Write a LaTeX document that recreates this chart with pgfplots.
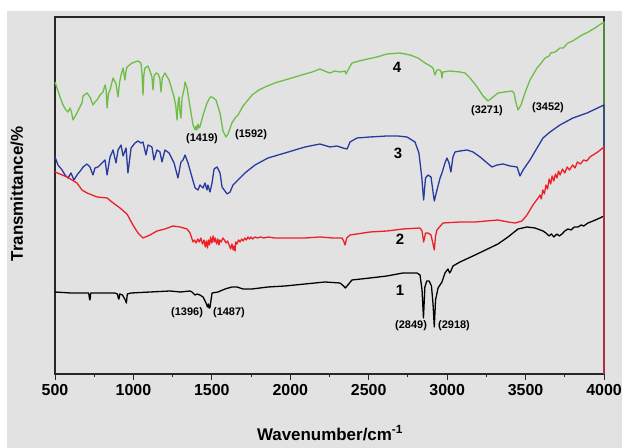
\documentclass[border=0pt]{standalone}
\usepackage{fontspec}
\setmainfont{Liberation Sans}
\usepackage{pgfplots}
\pgfplotsset{compat=1.18}
\definecolor{bgg}{RGB}{226,226,226}
\definecolor{cgreen}{RGB}{108,190,70}
\definecolor{cblue}{RGB}{40,58,160}
\definecolor{cred}{RGB}{236,32,38}
\definecolor{axc}{RGB}{40,40,40}
\begin{document}
\begin{tikzpicture}[x=1bp,y=1bp]
\useasboundingbox (0,0) rectangle (622,448);
\fill[bgg] (7,0) rectangle (622,437);
\begin{axis}[
  at={(55bp,74bp)}, anchor=south west,
  scale only axis, width=549bp, height=357bp,
  xmin=500, xmax=4000, ymin=0, ymax=357,
  xtick={500,1000,...,4000}, minor x tick num=1,
  ytick=\empty, xtick pos=bottom, tick align=outside,
  major tick length=6bp, minor tick length=3.5bp,
  every tick/.style={axc, line width=1pt},
  axis line style={axc, line width=1.2pt},
  xticklabel style={font=\fontsize{16}{19}\selectfont\bfseries, yshift=-1bp},
  /pgf/number format/assume math mode=true,
  /pgf/number format/1000 sep={},
  clip=false,
  axis background/.style={fill=bgg},
  every axis plot/.append style={line width=1.3pt, line join=round},
]
% 1 (black)
\addplot[black] coordinates {
(500,82)(600,81)(679,81)(715,81)(720,75)(723,74)(728,81)(742,81)(800,81)(880,81)(898,80)(905,75)(908,75)(913,80)(930,79)(948,74)(955,71)(961,80)(985,81)
(1106,82)(1233,83)(1300,82)(1361,83)(1373,82)(1393,79)(1405,80)(1424,79)(1444,77)(1463,71)(1472,67)(1478,70)(1482,66)(1487,66)(1493,72)(1501,81)(1539,82)
(1584,85)(1628,87)(1660,87)(1699,85)(1756,85)(1858,87)(1966,88)(2094,90)(2221,92)(2317,91)(2340,88)(2350,86)(2362,88)(2393,94)(2508,96)(2616,98)(2718,101)(2808,101)
(2827,99)(2840,84)(2849,56)(2858,87)(2870,93)(2885,93)(2900,88)(2910,70)(2918,47)(2926,74)(2942,86)(2967,92)(2986,101)(3005,105)(3016,101)(3024,103)(3037,108)(3082,112)(3178,119)
(3324,130)(3388,137)(3452,145)(3509,147)(3560,146)(3611,143)(3630,141)(3650,138)(3665,140)(3680,137)(3700,140)(3715,138)(3732,140)(3750,143)(3770,145)(3790,144)(3810,147)(3834,147)(3855,149)(3870,148)(3898,151)(3930,153)(3960,155)(4000,158)(4000,0)};
% 4 (green)
\addplot[cgreen] coordinates {
(500,292)(532,277)(551,269)(570,264)(583,262)(596,266)(605,262)(615,254)(640,261)(672,271)(679,278)(704,281)(723,277)(742,269)(755,272)(768,274)(787,279)(806,282)(819,289)(826,284)(832,266)(840,280)(851,284)
(870,296)(889,290)(902,277)(912,292)(921,299)(934,306)(940,300)(946,294)(952,302)(959,307)(991,311)(1029,313)(1048,311)(1055,300)(1061,279)(1067,300)(1074,306)(1093,308)(1112,300)(1118,297)(1125,284)(1132,298)(1144,301)(1157,300)(1168,296)(1176,282)(1184,296)(1201,301)
(1227,294)(1259,277)(1270,268)(1278,254)(1285,272)(1291,277)(1297,262)(1303,256)(1310,276)(1322,284)(1329,292)(1342,286)(1361,267)(1380,249)(1393,244)(1399,248)(1405,244)(1412,250)(1418,246)(1424,247)(1444,259)(1469,271)(1490,277)(1501,277)
(1526,274)(1552,261)(1571,243)(1590,237)(1603,240)(1628,251)(1648,256)(1667,259)(1699,268)(1730,274)(1756,279)(1800,284)(1839,287)(1900,291)(1966,294)(2030,297)(2094,300)(2140,302)(2189,305)(2234,302)(2253,301)(2285,303)(2317,302)(2349,303)(2355,300)(2368,304)(2393,311)
(2464,314)(2553,317)(2616,320)(2699,321)(2763,319)(2814,316)(2859,311)(2903,307)(2912,305)(2922,299)(2935,304)(2954,304)(2962,302)(2967,296)(2973,302)(3018,303)(3082,302)(3114,301)(3146,296)(3191,287)(3229,278)(3261,273)(3293,277)(3324,281)
(3369,282)(3413,283)(3426,281)(3439,271)(3452,264)(3471,269)(3496,281)(3528,294)(3573,306)(3600,311)(3624,316)(3650,318)(3660,321)(3688,322)(3720,326)(3740,326)(3770,331)(3800,333)(3830,336)(3860,339)(3900,342)(3943,346)(3970,349)(4000,352)(4000,0)};
% 3 (blue)
\addplot[cblue] coordinates {
(500,217)(519,209)(545,204)(564,199)(583,196)(602,201)(621,194)(640,199)(666,204)(679,207)(704,210)(723,207)(742,199)(755,206)(774,207)(800,211)(819,214)(832,199)(851,217)(870,224)(889,211)(902,224)(921,229)(934,218)(953,226)(965,201)(985,226)
(1010,231)(1029,233)(1048,231)(1061,232)(1080,219)(1093,229)(1118,227)(1131,214)(1150,224)(1169,222)(1182,212)(1201,224)(1227,221)(1259,211)(1284,196)(1303,212)(1316,214)(1329,219)(1348,211)(1373,197)(1393,186)(1412,184)(1424,189)(1444,186)(1456,191)(1469,184)(1475,189)(1488,182)
(1501,191)(1514,205)(1533,207)(1552,201)(1565,187)(1597,180)(1616,182)(1635,189)(1667,194)(1711,201)(1775,209)(1858,216)(1966,221)(2094,227)(2189,230)(2253,227)(2297,228)(2336,226)(2362,225)(2381,232)(2425,236)(2508,237)(2616,238)(2686,238)(2744,237)(2795,232)(2820,221)(2838,197)(2850,174)
(2862,196)(2878,199)(2897,197)(2918,173)(2935,184)(2955,196)(2967,201)(2986,211)(2999,216)(3012,211)(3024,202)(3037,217)(3050,222)(3082,223)(3127,224)(3165,222)(3210,217)(3255,211)(3286,207)(3318,209)(3356,210)(3401,208)(3446,207)(3464,198)(3484,204)
(3528,214)(3573,226)(3611,236)(3656,242)(3719,249)(3802,256)(3892,261)(4000,269)(4000,0)};
% 2 (red)
\addplot[cred] coordinates {
(500,202)(577,197)(640,191)(672,184)(704,181)(768,177)(832,176)(863,172)(914,166)(959,160)(997,149)(1029,141)(1061,136)(1106,139)(1150,143)(1201,145)(1252,148)(1297,147)(1342,145)(1361,141)(1380,132)
(1390,134)(1400,131)(1410,135)(1420,132)(1430,136)(1440,130)(1450,134)(1458,127)(1465,133)(1472,126)(1478,134)(1485,129)(1492,137)(1500,131)(1508,138)(1515,132)(1522,136)(1530,130)(1538,135)(1545,129)(1552,134)(1560,132)(1570,136)(1580,134)(1590,131)(1600,133)(1610,129)(1620,125)(1628,130)(1636,124)(1642,128)(1648,123)(1652,132)(1660,130)(1670,134)(1680,132)(1690,135)(1700,133)(1710,136)(1720,134)(1730,137)(1740,135)(1750,137)(1760,135)(1775,137)(1790,136)(1810,137)(1830,136)(1860,137)(1900,136)
(1966,136)(2094,136)(2189,137)(2272,136)(2330,136)(2340,133)(2349,129)(2360,136)(2381,139)(2508,142)(2616,143)(2718,145)(2827,146)(2840,143)(2850,132)(2862,141)(2878,141)(2897,139)(2910,130)(2918,124)(2926,138)(2935,144)(2973,151)(3082,152)(3178,152)(3324,154)(3388,152)(3433,151)(3477,153)(3509,159)(3547,169)
(3580,176)(3592,179)(3600,175)(3610,184)(3620,180)(3630,189)(3640,185)(3650,195)(3660,190)(3669,198)(3680,193)(3690,200)(3700,196)(3710,203)(3720,199)(3735,205)(3750,201)(3765,207)(3780,204)(3800,209)(3815,206)(3830,212)(3850,210)(3870,214)(3890,213)(3910,217)(3930,219)(3960,222)(4000,227)(4000,0)};
% annotations
\node[font=\fontsize{15}{18}\selectfont\bfseries] at (axis cs:2680,307) {4};
\node[font=\fontsize{15}{18}\selectfont\bfseries] at (axis cs:2687,221) {3};
\node[font=\fontsize{15}{18}\selectfont\bfseries] at (axis cs:2699,135) {2};
\node[font=\fontsize{15}{18}\selectfont\bfseries] at (axis cs:2699,84) {1};
\node[font=\fontsize{11}{13}\selectfont\bfseries] at (axis cs:1437,235) {(1419)};
\node[font=\fontsize{11}{13}\selectfont\bfseries] at (axis cs:1750,239) {(1592)};
\node[font=\fontsize{11}{13}\selectfont\bfseries] at (axis cs:3254,263) {(3271)};
\node[font=\fontsize{11}{13}\selectfont\bfseries] at (axis cs:3643,266) {(3452)};
\node[font=\fontsize{11}{13}\selectfont\bfseries] at (axis cs:1342,61) {(1396)};
\node[font=\fontsize{11}{13}\selectfont\bfseries] at (axis cs:1609,61) {(1487)};
\node[font=\fontsize{11}{13}\selectfont\bfseries] at (axis cs:2770,48) {(2849)};
\node[font=\fontsize{11}{13}\selectfont\bfseries] at (axis cs:3044,48) {(2918)};
\end{axis}
\node[font=\fontsize{17}{20}\selectfont\bfseries] at (330,15) {Wavenumber/cm\textsuperscript{-1}};
\node[font=\fontsize{17}{20}\selectfont\bfseries, rotate=90] at (17,254) {Transmittance/\%};
\end{tikzpicture}
\end{document}
